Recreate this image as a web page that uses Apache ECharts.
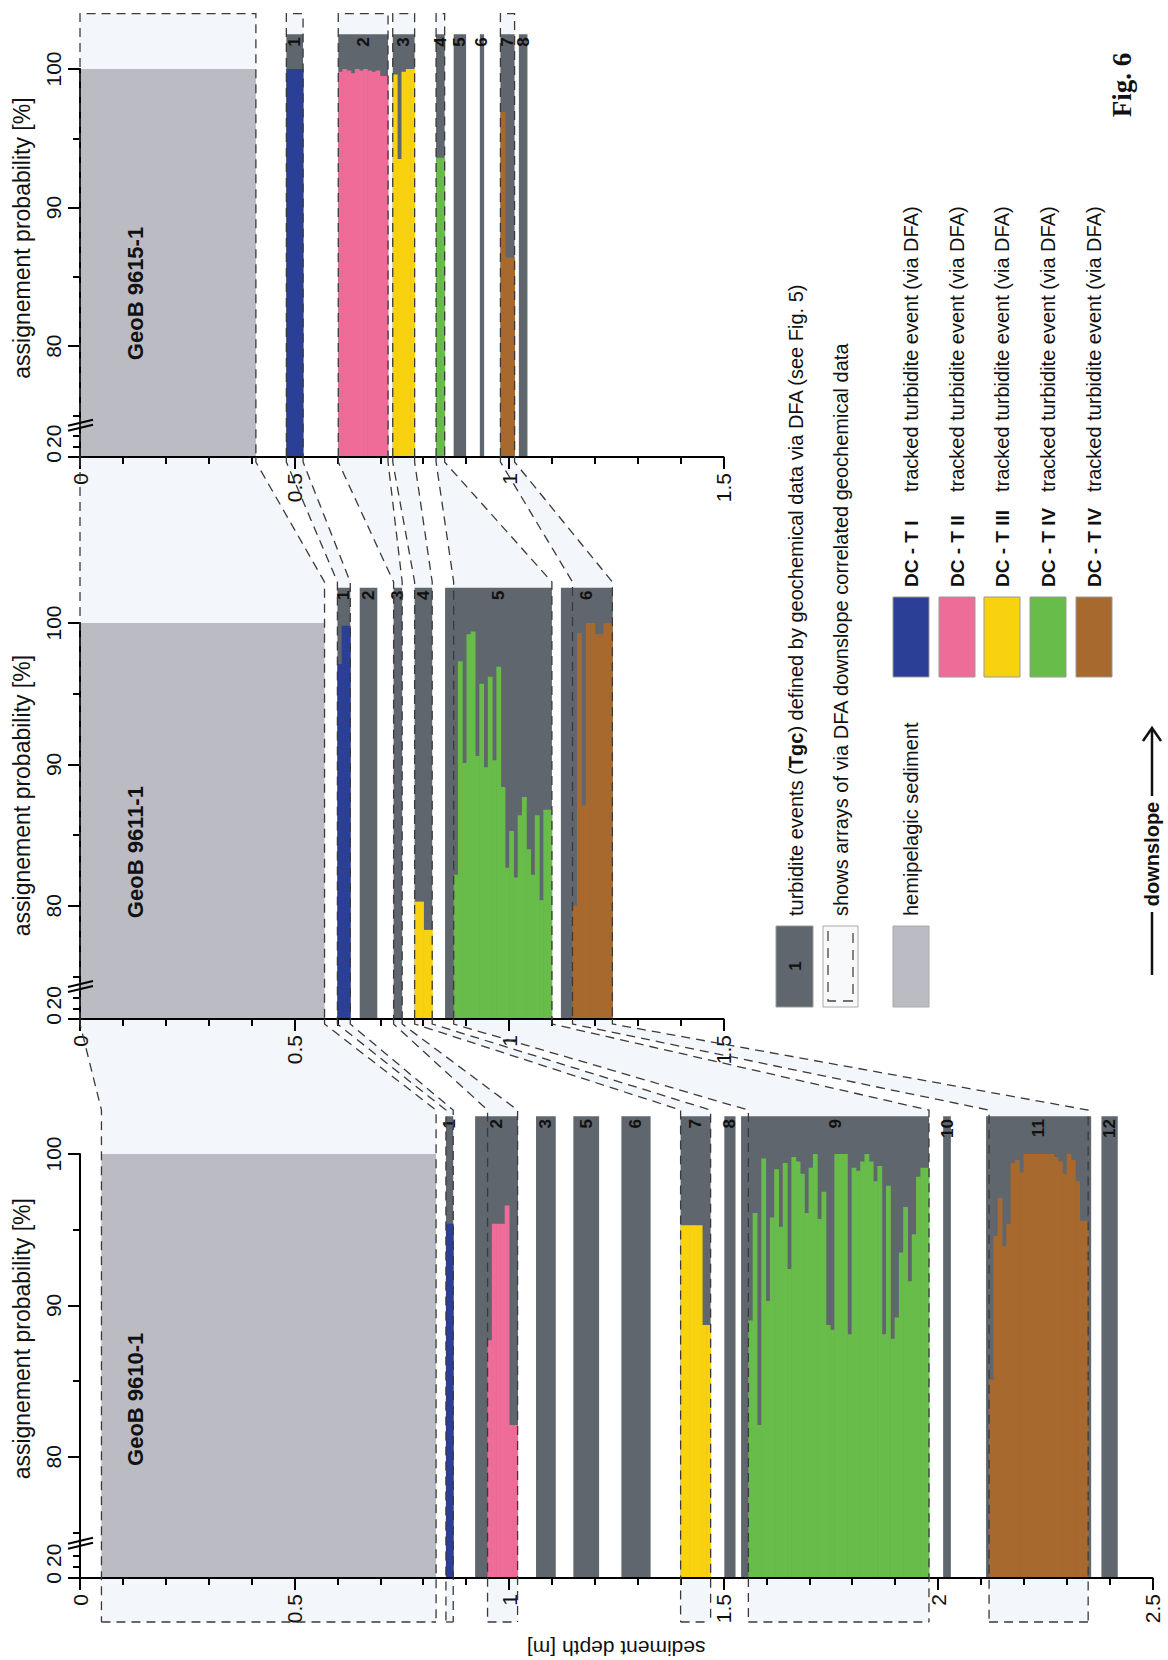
<!DOCTYPE html>
<html><head><meta charset="utf-8">
<script src="https://cdn.jsdelivr.net/npm/echarts@6/dist/echarts.min.js"></script>
<style>html,body{margin:0;padding:0;background:#fff}#c{width:1168px;height:1660px}</style>
</head><body><div id="c"></div>
<script>
// ================= DATA =================
const coreNames = ['GeoB 9615-1', 'GeoB 9611-1', 'GeoB 9610-1'];
const coreMaxDepth = [1.5, 1.5, 2.5];
const probTickValues = [0, 20, 80, 90, 100];
const probTickLabels = ['0', '20', '80', '90', '100'];
const probMinorTicks = [10, 20, 75, 85, 95];

// hemipelagic sediment [top, base] in m
const hemi9615 = [0, 0.41];
const hemi9611 = [0, 0.57];
const hemi9610 = [0.05, 0.83];

// turbidite events (Tgc): [label, top depth, base depth]
const units9615 = [[1,0.481,0.520],[2,0.602,0.718],[3,0.729,0.780],[4,0.830,0.850],[5,0.871,0.900],[6,0.932,0.942],[7,0.980,1.013],[8,1.023,1.043]];
const units9611 = [[1,0.600,0.630],[2,0.652,0.693],[3,0.731,0.751],[4,0.780,0.821],[5,0.851,1.100],[6,1.121,1.242]];
const units9610 = [[1,0.853,0.870],[2,0.921,1.021],[3,1.063,1.109],[5,1.150,1.210],[6,1.262,1.330],[7,1.400,1.470],[8,1.502,1.528],[9,1.541,1.979],[10,2.012,2.030],[11,2.112,2.357],[12,2.381,2.419]];

// assignment probability profiles (equal depth steps between from and to), %
const tracked9615 = [
  {c:'blue',   from:0.481, to:0.520, p:[100,100,100,100]},
  {c:'pink',   from:0.602, to:0.718, p:[99.8,100,99.9,99.7,100,99.9,100,99.9,99.8,99.9,99.5,99.5]},
  {c:'yellow', from:0.729, to:0.780, p:[99.6,93.5,99.8,100,100]},
  {c:'green',  from:0.830, to:0.850, p:[93.6,93.6]},
  {c:'brown',  from:0.980, to:1.013, p:[96.9,86.4,86.4]}
];
const tracked9611 = [
  {c:'blue',   from:0.600, to:0.630, p:[97.1,99.8,99.8]},
  {c:'yellow', from:0.780, to:0.821, p:[80.3,80.3,78.3,78.3]},
  {c:'green',  from:0.871, to:1.100, p:[82.2,97.3,90.1,99.2,99.4,90.6,95.7,89.8,96.2,90.3,96.9,88.4,82.7,85.3,82.0,86.4,87.7,84.0,82.2,86.4,80.4,86.8,86.8]},
  {c:'brown',  from:1.148, to:1.241, p:[80.0,99.3,87.1,100,100,99.2,99.2,100,100]}
];
const tracked9610 = [
  {c:'blue',   from:0.853, to:0.870, p:[95.4,95.4]},
  {c:'pink',   from:0.950, to:1.020, p:[87.7,95.4,95.4,95.4,96.6,82.1,82.1]},
  {c:'yellow', from:1.400, to:1.470, p:[95.3,95.3,95.3,95.3,95.3,88.7,88.7]},
  {c:'green',  from:1.558, to:1.979, p:[89.0,96.1,82.1,99.7,90.3,95.8,99.0,95.2,99.4,92.4,99.8,99.5,98.7,96.1,99.1,100,95.7,97.5,88.7,88.4,100,100,100,88.1,99.1,98.9,99.5,100,99.5,98.2,99.2,88.1,97.9,87.8,89.2,93.5,96.5,91.6,94.7,98.5,99.1,99.1]},
  {c:'brown',  from:2.119, to:2.350, p:[85.1,94.6,97.1,93.9,95.4,99.4,99.6,98.8,100,100,100,100,100,100,100,99.8,99.5,98.7,100,99.6,98.2,95.6,95.6]}
];

// downslope correlations: [[upper core top, base], [lower core top, base]]
const links9615to9611 = [[[0,0.41],[0,0.57]],[[0.481,0.520],[0.600,0.630]],[[0.602,0.718],[0.731,0.751]],[[0.729,0.780],[0.780,0.821]],[[0.830,0.850],[0.871,1.100]],[[0.980,1.013],[1.148,1.241]]];
const links9611to9610 = [[[0,0.57],[0.05,0.83]],[[0.600,0.630],[0.853,0.870]],[[0.731,0.751],[0.950,1.020]],[[0.780,0.821],[1.400,1.470]],[[0.871,1.100],[1.558,1.979]],[[1.148,1.241],[2.119,2.350]]];

// legend texts
const legendTop = ['turbidite events (', 'Tgc', ') defined by geochemical data via DFA (see Fig. 5)'];
const legendFrame = 'shows arrays of via DFA downslope correlated geochemical data';
const legendHemi = 'hemipelagic sediment';
const legendDC = ['DC - T I', 'DC - T II', 'DC - T III', 'DC - T IV', 'DC - T IV'];
const legendDCColors = ['blue', 'pink', 'yellow', 'green', 'brown'];
const legendTracked = 'tracked turbidite event (via DFA)';

// ================= STYLE / HELPERS =================
const FONT = '"Liberation Sans", Arial, Helvetica, sans-serif';
const palette = {hemi:'#babbc3', grey:'#5f666d', blue:'#2b3f97', pink:'#ee6c98', yellow:'#f9d20f', green:'#68bd4a', brown:'#a8692f'};
const colorKeys = ['hemi','grey','blue','pink','yellow','green','brown'];
const PALE = '#f3f6fa';
const DASH = {stroke:'#3a3a3a', lineWidth:1.3, lineDash:[9,6], fill:null};
const AXMIN = 72;              // axis value of 0 %
const LABEL_TOP = 102.5;       // top of event boxes (label zone)
function pv(p){ return p <= 20 ? AXMIN + p * 0.075 : p; }   // broken probability axis

function buildItems(hemi, units, tracked){
  const items = [[hemi[0], hemi[1], pv(0), pv(100), 0, 0]];
  units.forEach(u => items.push([u[1], u[2], pv(0), LABEL_TOP, 1, u[0]]));
  tracked.forEach(t => {
    const w = (t.to - t.from) / t.p.length;
    t.p.forEach((p, i) => items.push([t.from + i*w, t.from + (i+1)*w, pv(0), pv(p), colorKeys.indexOf(t.c), 0]));
  });
  return items;
}
const coreItems = [buildItems(hemi9615, units9615, tracked9615), buildItems(hemi9611, units9611, tracked9611), buildItems(hemi9610, units9610, tracked9610)];

function renderItem(params, api){
  const a = api.coord([api.value(0), api.value(3)]);
  const b = api.coord([api.value(1), api.value(2)]);
  const ci = api.value(4), lbl = api.value(5);
  const rect = {type:'rect', shape:{x:a[0], y:a[1], width:Math.max(1, b[0]-a[0] + (ci > 1 ? 0.5 : 0)), height:b[1]-a[1]}, style:{fill:palette[colorKeys[ci]]}};
  if (ci === 1 && lbl > 0) {
    return {type:'group', children:[rect, {type:'text', x:(a[0]+b[0])/2, y:a[1]+3, rotation:Math.PI/2,
      style:{text:String(lbl), font:'bold 17px ' + FONT, fill:'#111', align:'right', verticalAlign:'middle'}}]};
  }
  return rect;
}

const gridBoxes = [
  {left:80, top:69,   width:643.5,  height:388},
  {left:80, top:623,  width:643.5,  height:396},
  {left:80, top:1154, width:1072.5, height:429}
];

const option = {animation:false, backgroundColor:'#fff', grid:[], xAxis:[], yAxis:[], series:[]};
gridBoxes.forEach((gb, i) => {
  option.grid.push(Object.assign({containLabel:false}, gb));
  option.xAxis.push({
    gridIndex:i, type:'value', min:0, max:coreMaxDepth[i], interval:0.5, z:6,
    axisLine:{show:true, onZero:false, lineStyle:{color:'#000', width:2}},
    axisTick:{show:true, length:12, lineStyle:{color:'#000', width:2}},
    minorTick:{show:true, splitNumber:5, length:7, lineStyle:{color:'#000', width:2}},
    axisLabel:{rotate:90, fontSize:21, color:'#111', fontFamily:FONT, margin:16, hideOverlap:false},
    splitLine:{show:false}, minorSplitLine:{show:false},
    name: i === 2 ? 'sediment depth [m]' : '', nameLocation:'middle', nameGap:60, nameRotate:180,
    nameTextStyle:{fontSize:21, color:'#111', fontFamily:FONT}
  });
  option.yAxis.push({
    gridIndex:i, type:'value', min:AXMIN, max:100, position:'left', z:6,
    axisLine:{show:true, onZero:false, lineStyle:{color:'#000', width:2}},
    axisTick:{show:true, length:12, customValues:probTickValues.filter(p => p === 0 || p >= 80).map(pv), lineStyle:{color:'#000', width:2}},
    axisLabel:{customValues:probTickValues.map(pv), rotate:90, fontSize:21, color:'#111', fontFamily:FONT, margin:16, hideOverlap:false,
      formatter:v => { const k = probTickValues.findIndex(p => Math.abs(pv(p) - v) < 1e-6); return k >= 0 ? probTickLabels[k] : ''; }},
    splitLine:{show:false}
  });
  option.yAxis.push({
    gridIndex:i, type:'value', min:AXMIN, max:100, position:'left', offset:0, z:6,
    axisLine:{show:false},
    axisTick:{show:true, length:7, customValues:probMinorTicks.map(pv), lineStyle:{color:'#000', width:2}},
    axisLabel:{show:false}, splitLine:{show:false}
  });
  option.series.push({
    type:'custom', name:coreNames[i], xAxisIndex:i, yAxisIndex:2*i, clip:false, silent:true, z:3,
    dimensions:['top','base','low','high','colour','label'], encode:{x:[0,1], y:[2,3]},
    renderItem, data:coreItems[i]
  });
});

const chart = echarts.init(document.getElementById('c'), null, {renderer:'svg', width:1168, height:1660});
chart.setOption(option);

// ================= FRAMES, CORRELATIONS, LEGEND =================
const P = (si, d, v) => chart.convertToPixel({seriesIndex:si}, [d, v]);
const axisY = [0,1,2].map(i => P(i, 0, pv(0))[1]);
const g = [];

// frames on the uppermost core
links9615to9611.forEach(([s]) => {
  const x0 = P(0, s[0], 100)[0], x1 = P(0, s[1], 100)[0], yT = P(0, 0, 104)[1];
  g.push({type:'rect', z:1, silent:true, shape:{x:x0, y:yT, width:x1-x0, height:axisY[0]-yT}, style:{fill:PALE}});
  g.push({type:'polyline', z:8, silent:true, shape:{points:[[x0,axisY[0]],[x0,yT],[x1,yT],[x1,axisY[0]]]}, style:DASH});
});
function addLinks(links, a, b, lastCore){
  links.forEach(([s, t]) => {
    const xs0 = P(a, s[0], 100)[0], xs1 = P(a, s[1], 100)[0];
    const xt0 = P(b, t[0], 100)[0], xt1 = P(b, t[1], 100)[0];
    const ya = axisY[a], ys = ya + 5, yt = P(b, 0, 102.9)[1];
    const yb = lastCore ? axisY[b] + 44 : axisY[b];
    g.push({type:'polygon', z:1, silent:true, shape:{points:[[xs0,ya],[xs1,ya],[xs1,ys],[xt1,yt],[xt1,yb],[xt0,yb],[xt0,yt],[xs0,ys]]}, style:{fill:PALE}});
    g.push({type:'polyline', z:8, silent:true, shape:{points:[[xs0,ya],[xs0,ys],[xt0,yt],[xt0,yb]]}, style:DASH});
    g.push({type:'polyline', z:8, silent:true, shape:{points:[[xs1,ya],[xs1,ys],[xt1,yt],[xt1,yb]]}, style:DASH});
    if (lastCore) g.push({type:'line', z:8, silent:true, shape:{x1:xt0, y1:yb, x2:xt1, y2:yb}, style:DASH});
  });
}
addLinks(links9615to9611, 0, 1, false);
addLinks(links9611to9610, 1, 2, true);

// axis breaks, axis names, core names
[0,1,2].forEach(i => {
  const b = P(i, 0, 74.4);
  g.push({type:'line', z:9, silent:true, shape:{x1:b[0]-12, y1:b[1]+2, x2:b[0]+13, y2:b[1]-4}, style:{stroke:'#000', lineWidth:2}});
  g.push({type:'line', z:9, silent:true, shape:{x1:b[0]-12, y1:b[1]+7, x2:b[0]+13, y2:b[1]+1}, style:{stroke:'#000', lineWidth:2}});
  g.push({type:'text', z:20, silent:true, x:22, y:P(i, 0, 87.8)[1], rotation:Math.PI/2,
    style:{text:'assignement probability [%]', font:'23px ' + FONT, fill:'#111', align:'center', verticalAlign:'middle'}});
  const cp = P(i, 0.13, 83.8);
  g.push({type:'text', z:20, silent:true, x:cp[0], y:cp[1], rotation:Math.PI/2,
    style:{text:coreNames[i], font:'bold 22px ' + FONT, fill:'#111', align:'center', verticalAlign:'middle'}});
});

// legend
const R = Math.PI/2;
g.push({type:'rect', z:20, silent:true, shape:{x:776, y:926, width:37, height:81}, style:{fill:palette.grey, stroke:'#999', lineWidth:1}});
g.push({type:'text', z:21, silent:true, x:795, y:966, rotation:R, style:{text:'1', font:'bold 17px ' + FONT, fill:'#111', align:'center', verticalAlign:'middle'}});
g.push({type:'rect', z:20, silent:true, shape:{x:823, y:926, width:35, height:81}, style:{fill:'#f8f9fb', stroke:'#aaa', lineWidth:1}});
g.push({type:'polyline', z:21, silent:true, shape:{points:[[828,931],[828,1001],[853,1001],[853,931]]}, style:{stroke:'#444', lineWidth:1.3, lineDash:[10,7], fill:null}});
g.push({type:'rect', z:20, silent:true, shape:{x:893, y:926, width:36, height:81}, style:{fill:palette.hemi, stroke:'#aaa', lineWidth:1}});
g.push({type:'text', z:20, silent:true, x:796, y:916, rotation:R, style:{
  text:'{a|' + legendTop[0] + '}{b|' + legendTop[1] + '}{a|' + legendTop[2] + '}',
  rich:{a:{font:'20px ' + FONT, fill:'#111'}, b:{font:'bold 20px ' + FONT, fill:'#111'}}, align:'left', verticalAlign:'middle'}});
g.push({type:'text', z:20, silent:true, x:841, y:916, rotation:R, style:{text:legendFrame, font:'20px ' + FONT, fill:'#111', align:'left', verticalAlign:'middle'}});
g.push({type:'text', z:20, silent:true, x:911, y:916, rotation:R, style:{text:legendHemi, font:'20px ' + FONT, fill:'#111', align:'left', verticalAlign:'middle'}});
const boxX = [893, 939, 984, 1030, 1076];
legendDC.forEach((t, k) => {
  const cx = boxX[k] + 18;
  g.push({type:'rect', z:20, silent:true, shape:{x:boxX[k], y:597, width:36, height:80}, style:{fill:palette[legendDCColors[k]], stroke:'#999', lineWidth:1}});
  g.push({type:'text', z:20, silent:true, x:cx, y:587, rotation:R, style:{text:t, font:'bold 19px ' + FONT, fill:'#111', align:'left', verticalAlign:'middle'}});
  g.push({type:'text', z:20, silent:true, x:cx, y:492, rotation:R, style:{text:legendTracked, font:'20px ' + FONT, fill:'#111', align:'left', verticalAlign:'middle'}});
});
// downslope arrow
g.push({type:'line', z:20, silent:true, shape:{x1:1152, y1:975, x2:1152, y2:912}, style:{stroke:'#111', lineWidth:2.5}});
g.push({type:'line', z:20, silent:true, shape:{x1:1152, y1:796, x2:1152, y2:729}, style:{stroke:'#111', lineWidth:2.5}});
g.push({type:'polyline', z:20, silent:true, shape:{points:[[1143,741],[1152,728],[1161,741]]}, style:{stroke:'#111', lineWidth:2.5, fill:null}});
g.push({type:'text', z:20, silent:true, x:1152, y:854, rotation:R, style:{text:'downslope', font:'bold 20px ' + FONT, fill:'#111', align:'center', verticalAlign:'middle'}});
g.push({type:'text', z:20, silent:true, x:1122, y:85, rotation:R, style:{text:'Fig. 6', font:'bold 27px "Liberation Serif", "Times New Roman", serif', fill:'#111', align:'center', verticalAlign:'middle'}});

chart.setOption({graphic:{elements:g}});
</script>
</body></html>
